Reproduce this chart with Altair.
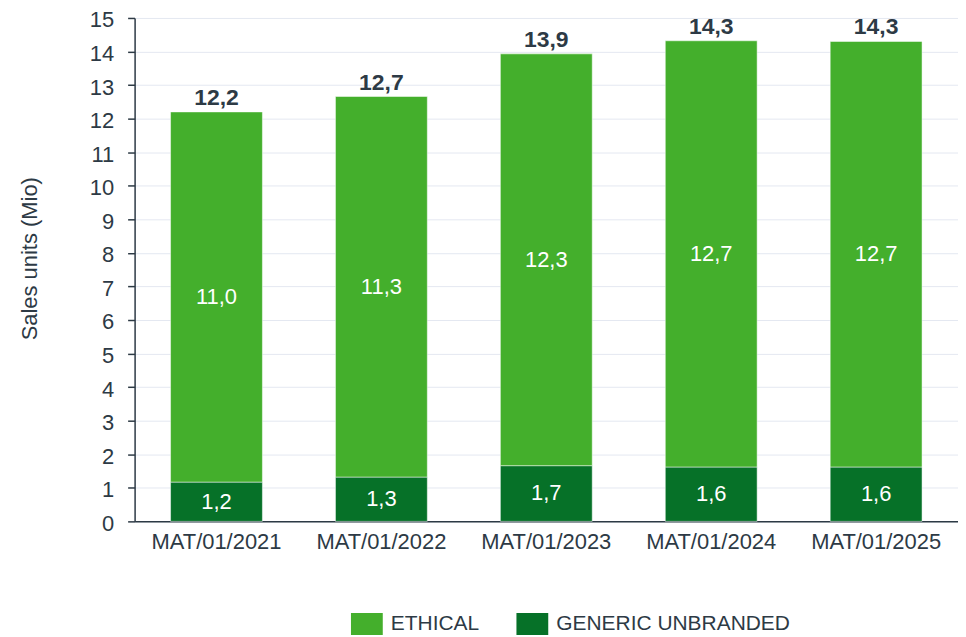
import altair as alt
import pandas as pd

periods = ["MAT/01/2021", "MAT/01/2022", "MAT/01/2023", "MAT/01/2024", "MAT/01/2025"]
ethical = [11.03, 11.34, 12.27, 12.70, 12.68]
generic = [1.17, 1.32, 1.66, 1.62, 1.62]
series = ["ETHICAL", "GENERIC UNBRANDED"]
colors = ["#44af2c", "#067128"]

def fmt(v):
    return f"{v:.1f}".replace(".", ",")

rows = []
for p, e, g in zip(periods, ethical, generic):
    rows.append({"period": p, "series": "GENERIC UNBRANDED", "value": g, "start": 0, "end": g,
                 "mid": g / 2, "label": fmt(g), "ord": 0})
    rows.append({"period": p, "series": "ETHICAL", "value": e, "start": g, "end": g + e,
                 "mid": g + e / 2, "label": fmt(e), "ord": 1})
df = pd.DataFrame(rows)
tot = pd.DataFrame({"period": periods, "total": [e + g for e, g in zip(ethical, generic)]})
tot["label"] = tot["total"].map(fmt)

font = "Liberation Sans"
ink = "#2d3a45"
yscale = alt.Scale(domain=[0, 15], nice=False)
yaxis = alt.Axis(values=list(range(16)), labelFontSize=22, labelColor=ink, labelFont=font,
                 labelOverlap=False, labelOffset=2, titleFontSize=22, titleFont=font,
                 titleFontWeight="normal", titleColor=ink, titleX=-93, titleY=241,
                 tickSize=7, tickColor=ink, domainColor=ink, tickWidth=1.5,
                 domainWidth=1.5, gridColor="#e4e8f1", labelPadding=14)
ytitle = "Sales units (Mio)"
x = alt.X("period:N", sort=periods, title=None,
          scale=alt.Scale(paddingInner=0.443, paddingOuter=0.218),
          axis=alt.Axis(labelAngle=0, labelFontSize=22, labelColor=ink, labelFont=font,
                        ticks=False, domainColor=ink, domainWidth=1.5, labelPadding=10))

bars = alt.Chart(df).mark_bar(stroke="#ffffff", strokeWidth=0.5).encode(
    x=x, y=alt.Y("start:Q", title=ytitle, scale=yscale, axis=yaxis), y2="end:Q",
    color=alt.Color("series:N", sort=series,
                    scale=alt.Scale(domain=series, range=colors),
                    legend=alt.Legend(title=None, orient="none", legendX=222, legendY=597,
                                      direction="horizontal", labelFontSize=21, labelFont=font,
                                      labelColor=ink, symbolType="M-1.45,-1H1.45V1H-1.45Z",
                                      symbolSize=484, symbolStrokeWidth=0, symbolOpacity=1,
                                      columnPadding=37, labelOffset=13, labelLimit=500, padding=0)),
    order=alt.Order("ord:Q"),
)

inner = alt.Chart(df).mark_text(fontSize=22, color="white", font=font, baseline="middle").encode(
    x=alt.X("period:N", sort=periods),
    y=alt.Y("mid:Q", title=ytitle, scale=yscale, axis=yaxis), text="label:N")

tops = alt.Chart(tot).mark_text(fontSize=23, fontWeight="bold", color=ink, font=font,
                                baseline="alphabetic", dy=-7).encode(
    x=alt.X("period:N", sort=periods),
    y=alt.Y("total:Q", title=ytitle, scale=yscale, axis=yaxis), text="label:N")

chart = alt.layer(bars, inner, tops).properties(
    width=826, height=505,
    autosize=alt.AutoSizeParams(type="none"),
    padding={"left": 127, "top": 9, "right": 0, "bottom": 115},
).configure_view(stroke=None)

chart.save("out.html", embed_options={"renderer": "svg", "actions": False})
